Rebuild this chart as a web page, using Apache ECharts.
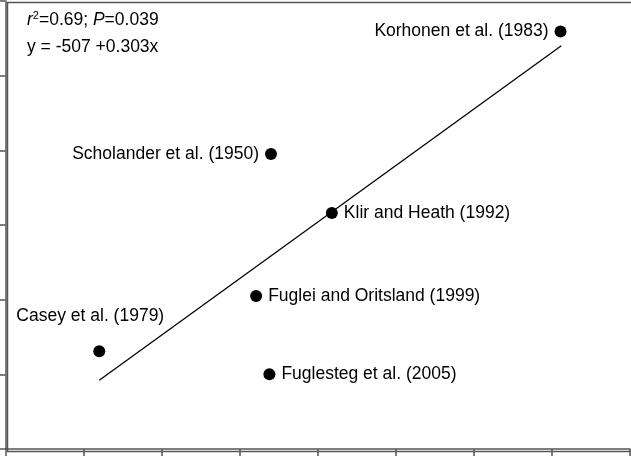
<!DOCTYPE html><html><head><meta charset="utf-8"><script src="https://cdn.jsdelivr.net/npm/echarts@6/dist/echarts.min.js"></script></head><body style="margin:0"><div id="c" style="width:631px;height:456px"></div><script>
const names=["Korhonen et al. (1983)","Scholander et al. (1950)","Klir and Heath (1992)","Fuglei and Oritsland (1999)","Casey et al. (1979)","Fuglesteg et al. (2005)"];
const xs=[7.11,3.40,4.18,3.21,1.20,3.38];
const ys=[5.59,3.95,3.16,2.05,1.31,1.00];
const pos=["left","left","right","right","top","right"];
const fitLine=[[1.20,0.92],[7.12,5.40]];
const ch=echarts.init(document.getElementById('c'));
const F='"Liberation Sans", Arial, sans-serif';
const FS=17.5;
ch.setOption({animation:false,
grid:{left:5.6,right:1,top:1,bottom:7},
xAxis:{type:'value',min:0,max:8,interval:1,axisLabel:{show:false},splitLine:{show:false},axisLine:{lineStyle:{color:'#555',width:1.5}},axisTick:{length:8,lineStyle:{color:'#555',width:1.5}}},
yAxis:{type:'value',min:0,max:6,interval:1,axisLabel:{show:false},splitLine:{show:false},axisLine:{lineStyle:{color:'#555',width:1.5}},axisTick:{length:6,lineStyle:{color:'#555',width:1.5}}},
graphic:[{type:'rect',left:5,top:0,shape:{width:625,height:449},style:{fill:'none',stroke:'#555',lineWidth:1.5},silent:true},
{type:'text',left:27,top:10,style:{rich:{i:{fontStyle:'italic',fontSize:FS,fontFamily:F},s:{fontSize:11,fontFamily:F,verticalAlign:'top',padding:[0,0,9,0]},n:{fontSize:FS,fontFamily:F}},text:'{i|r}{s|2}{n|=0.69; }{i|P}{n|=0.039}'}},
{type:'text',left:27,top:38,style:{text:'y = -507 +0.303x',fontSize:FS,fontFamily:F,fill:'#000'}}],
series:[{type:'line',data:fitLine,symbol:'none',lineStyle:{color:'#000',width:1.3}},
{type:'scatter',symbolSize:12,itemStyle:{color:'#000',opacity:1},
data:xs.map((x,i)=>({value:[x,ys[i]],name:names[i],label:{show:true,position:pos[i],distance:6,offset:i==4?[-9,-14]:[0,0],formatter:names[i],fontSize:FS,fontFamily:F,color:'#000'}}))}]});
</script></body></html>
